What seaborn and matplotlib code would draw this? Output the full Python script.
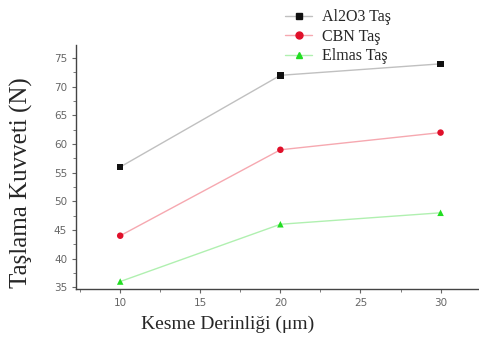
import matplotlib
matplotlib.use("Agg")
import matplotlib.pyplot as plt
import seaborn as sns
import pandas as pd
from matplotlib.lines import Line2D
from matplotlib.ticker import MultipleLocator

depth = [10, 20, 30]
al2o3 = [56, 72, 74]
cbn = [44, 59, 62]
elmas = [36, 46, 48]
series_names = ["Al2O3 Taş", "CBN Taş", "Elmas Taş"]

sns.set_style("ticks")
plt.rcParams['font.family'] = ['DejaVu Sans']

rows = []
for name, vals in zip(series_names, [al2o3, cbn, elmas]):
    for d, v in zip(depth, vals):
        rows.append({"depth": d, "force": v, "series": name})
df = pd.DataFrame(rows)

line_cols = {"Al2O3 Taş": "#c0c0c0", "CBN Taş": "#f6a8b0", "Elmas Taş": "#b0f0b0"}
mark_cols = {"Al2O3 Taş": "#111111", "CBN Taş": "#e0102a", "Elmas Taş": "#22dd22"}
markers = {"Al2O3 Taş": "s", "CBN Taş": "o", "Elmas Taş": "^"}

fig = plt.figure(figsize=(4.79, 3.38), dpi=100)
ax = fig.add_axes([0.159, 0.145, 0.841, 0.722])

sns.lineplot(data=df, x="depth", y="force", hue="series", palette=line_cols,
             linewidth=1.0, legend=False, ax=ax)
sns.scatterplot(data=df, x="depth", y="force", hue="series", style="series",
                palette=mark_cols, markers=markers, s=22, edgecolor="none",
                legend=False, ax=ax, zorder=5)

ax.set_xlim(7.25, 32.4)
ax.set_ylim(34.7, 77.3)
ax.xaxis.set_major_locator(MultipleLocator(5))
ax.xaxis.set_minor_locator(MultipleLocator(2.5))
ax.yaxis.set_major_locator(MultipleLocator(5))
ax.yaxis.set_minor_locator(MultipleLocator(2.5))
ax.set_xticks([10, 15, 20, 25, 30])
ax.tick_params(axis='both', which='major', labelsize=7.5, colors='#666666', length=3, width=0.8)
ax.tick_params(axis='both', which='minor', length=2, width=0.6, color='#666666')
for s in ["top", "right"]:
    ax.spines[s].set_visible(False)
for s in ["left", "bottom"]:
    ax.spines[s].set_color("#444444")
    ax.spines[s].set_linewidth(1.0)

ax.set_xlabel("Kesme Derinliği (μm)", family="Liberation Serif", fontsize=14)
ax.xaxis.set_label_coords(0.375, -0.11)
ax.set_ylabel("Taşlama Kuvveti (N)", family="Liberation Serif", fontsize=18)
ax.yaxis.set_label_coords(-0.107, 0.434)

handles = [Line2D([0], [0], color=line_cols[n], marker=markers[n], markerfacecolor=mark_cols[n],
                  markeredgecolor=mark_cols[n], markersize=5, linewidth=1.0) for n in series_names]
fig.legend(handles, series_names, loc="upper left", bbox_to_anchor=(0.565, 1.015),
           frameon=False, prop={"family": "Liberation Serif", "size": 11.5},
           handlelength=1.7, labelspacing=0.22, handletextpad=0.6, numpoints=1)

fig.savefig("out.png", dpi=100)
